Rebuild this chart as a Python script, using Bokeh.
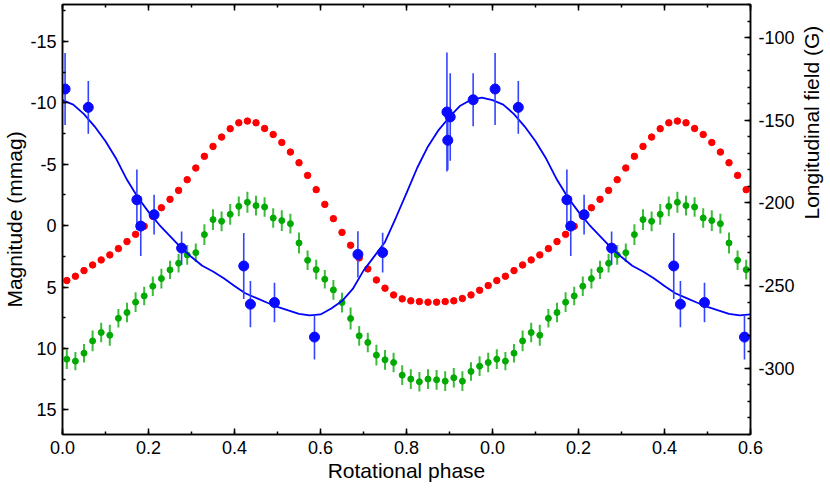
import math
from bokeh.plotting import figure
from bokeh.models import (Range1d, LinearAxis, SingleIntervalTicker,
                          CustomJSTickFormatter)
from bokeh.embed import file_html
from bokeh.resources import INLINE

# ---------------- data (one rotation cycle, phases 0..1) ----------------
phot_phase = [0.01, 0.03, 0.05, 0.07, 0.09, 0.11, 0.13, 0.15, 0.17, 0.19,
              0.21, 0.23, 0.25, 0.27, 0.29, 0.31, 0.33, 0.35, 0.37, 0.39,
              0.41, 0.43, 0.45, 0.47, 0.49, 0.51, 0.53, 0.55, 0.57, 0.59,
              0.61, 0.63, 0.65, 0.67, 0.69, 0.71, 0.73, 0.75, 0.77, 0.79,
              0.81, 0.83, 0.85, 0.87, 0.89, 0.91, 0.93, 0.95, 0.97, 0.99]

red_mag = [4.47, 4.12, 3.66, 3.20, 2.79, 2.38, 1.87, 1.30, 0.71, 0.05,
           -0.76, -1.46, -2.14, -2.87, -3.74, -4.69, -5.64, -6.45, -7.21, -7.89,
           -8.37, -8.51, -8.37, -7.91, -7.42, -6.77, -5.99, -5.12, -4.09, -2.93,
           -1.73, -0.57, 0.55, 1.60, 2.63, 3.52, 4.42, 5.09, 5.64, 5.96,
           6.12, 6.18, 6.23, 6.23, 6.18, 6.12, 5.93, 5.64, 5.26, 4.88]

green_mag = [10.87, 11.03, 10.38, 9.38, 8.70, 8.92, 7.54, 7.07, 6.23, 5.72,
             4.93, 4.31, 3.60, 3.06, 2.38, 2.20, 0.73, -0.49, -0.35, -0.92,
             -1.57, -1.90, -1.63, -1.52, -0.62, -0.41, -0.16, 1.41, 2.82, 3.58,
             4.36, 5.23, 6.26, 7.56, 8.97, 9.51, 10.54, 10.92, 11.14, 12.17,
             12.49, 12.71, 12.49, 12.55, 12.66, 12.38, 12.66, 11.87, 11.44, 11.14]

green_err = [0.80, 0.75, 0.75, 0.85, 0.80, 0.85, 0.75, 0.80, 0.80, 0.75,
             0.80, 0.80, 0.75, 0.75, 0.80, 0.75, 0.85, 0.85, 0.80, 0.85,
             0.80, 0.85, 0.80, 0.80, 0.80, 0.85, 0.80, 0.85, 0.80, 0.80,
             0.75, 0.80, 0.80, 0.90, 0.80, 0.80, 0.85, 0.80, 0.80, 0.80,
             0.80, 0.80, 0.80, 0.80, 0.80, 0.80, 0.80, 0.75, 0.80, 0.80]

field_phase = [0.006, 0.060, 0.173, 0.182, 0.213, 0.277, 0.4215, 0.437,
               0.493, 0.586, 0.687, 0.7445, 0.894, 0.896, 0.9017, 0.955]
field_G = [-131.1, -142.2, -198.1, -214.0, -207.1, -227.3, -238.1, -261.2,
           -260.2, -281.1, -231.1, -230.0, -145.0, -162.1, -148.0, -137.6]
field_err = [21.7, 15.9, 18.3, 18.0, 12.0, 10.0, 20.0, 14.0,
             12.0, 13.5, 14.0, 12.0, 36.0, 18.0, 26.5, 16.0]

fit_phase = [0.000, 0.025, 0.050, 0.075, 0.100, 0.125, 0.150, 0.175, 0.200,
             0.225, 0.250, 0.275, 0.300, 0.325, 0.350, 0.375, 0.400, 0.425,
             0.450, 0.475, 0.500, 0.525, 0.550, 0.575, 0.600, 0.625, 0.650,
             0.675, 0.700, 0.725, 0.750, 0.775, 0.800, 0.825, 0.850, 0.875,
             0.900, 0.925, 0.950, 0.975, 1.000]
fit_G = [-137.8, -140.5, -146.3, -153.8, -162.7, -173.3, -186.0, -196.6, -205.4,
         -213.2, -220.0, -226.8, -232.7, -238.0, -241.4, -245.5, -250.2, -254.6,
         -257.4, -260.2, -262.8, -265.0, -267.0, -268.0, -267.4, -263.8, -259.3,
         -252.0, -240.9, -232.3, -223.6, -209.1, -194.1, -178.7, -165.8, -155.8,
         -148.0, -141.2, -137.6, -136.3, -137.8]

X_MAX = 1.6   # phase axis runs over 1.6 cycles


def extend(ph, *cols):
    """Repeat the phased data for the next cycle, up to X_MAX."""
    xs = []
    outs = [[] for _ in cols]
    for cyc in (0, 1):
        for i, f in enumerate(ph):
            x = f + cyc
            if x > X_MAX + 1e-9 or (cyc == 1 and f == 0.0 and 1.0 in ph):
                continue
            xs.append(x)
            for o, c in zip(outs, cols):
                o.append(c[i])
    return [xs] + outs


px, red_y, green_y, green_e = extend(phot_phase, red_mag, green_mag, green_err)
fx, fG, fE = extend(field_phase, field_G, field_err)
cx, cG = extend(fit_phase, fit_G)

FONT = "Liberation Sans"

p = figure(frame_width=688, frame_height=430, output_backend="svg",
           toolbar_location=None,
           x_range=Range1d(0, X_MAX), y_range=Range1d(17, -18),
           min_border_left=0, min_border_right=0, min_border_top=4,
           min_border_bottom=0)
p.extra_y_ranges = {"field": Range1d(-340, -80)}
p.xgrid.visible = False
p.ygrid.visible = False
p.outline_line_color = "black"
p.outline_line_width = 1.5
p.background_fill_color = "white"
p.border_fill_color = "white"

INT_FMT = CustomJSTickFormatter(code="return String(Math.round(tick));")


def style_axis(ax, tick_size="18px"):
    ax.axis_line_color = "black"
    ax.axis_line_width = 1.5
    ax.major_tick_line_color = "black"
    ax.minor_tick_line_color = "black"
    ax.major_tick_line_width = 1.5
    ax.minor_tick_line_width = 1.5
    ax.major_tick_in = 6
    ax.major_tick_out = 0
    ax.minor_tick_in = 3
    ax.minor_tick_out = 0
    ax.major_label_text_font = FONT
    ax.major_label_text_font_size = tick_size
    ax.major_label_text_color = "black"
    ax.axis_label_text_font = FONT
    ax.axis_label_text_font_style = "normal"
    ax.axis_label_text_font_size = "21px"
    ax.axis_label_text_color = "black"
    ax.axis_label_standoff = 2


# bottom axis
xa = p.xaxis[0]
xa.ticker = SingleIntervalTicker(interval=0.2, num_minor_ticks=2)
xa.formatter = CustomJSTickFormatter(
    code="return (Math.round((tick % 1) * 10) / 10).toFixed(1);")
style_axis(xa)
xa.major_label_standoff = 6
xa.axis_label = "Rotational phase"

# left axis
ya = p.yaxis[0]
ya.ticker = SingleIntervalTicker(interval=5, num_minor_ticks=2)
ya.formatter = INT_FMT
style_axis(ya)
ya.major_label_standoff = 6
ya.axis_label_standoff = 1
ya.axis_label = "Magnitude (mmag)"

# top axis (ticks only, no labels)
ta = LinearAxis(ticker=SingleIntervalTicker(interval=0.2, num_minor_ticks=2),
                formatter=CustomJSTickFormatter(code="return '';"))
style_axis(ta)
ta.major_label_standoff = 0
p.add_layout(ta, "above")

# right axis (field)
ra = LinearAxis(y_range_name="field",
                ticker=SingleIntervalTicker(interval=50, num_minor_ticks=5),
                formatter=CustomJSTickFormatter(code="return String(Math.round(tick));"))
style_axis(ra)
ra.major_label_standoff = 8
ra.axis_label = "Longitudinal field (G)"
if "axis_label_orientation" in ra.properties():
    ra.axis_label_orientation = math.pi / 2
    ra.axis_label_standoff = 14
p.add_layout(ra, "right")

# green photometry with error bars
g_lo = [g - e for g, e in zip(green_y, green_e)]
g_hi = [g + e for g, e in zip(green_y, green_e)]
p.segment(x0=px, y0=g_lo, x1=px, y1=g_hi, line_color="#3dbb3d", line_width=2)
p.scatter(px, green_y, size=6, fill_color="#00aa00", line_color="#00aa00")

# red photometry
p.scatter(px, red_y, size=6.5, fill_color="#ff0000", line_color="#ff0000")

# field fit curve
p.line(cx, cG, y_range_name="field", line_color="#0000ff", line_width=1.8)

# field measurements
f_lo = [g - e for g, e in zip(fG, fE)]
f_hi = [g + e for g, e in zip(fG, fE)]
p.segment(x0=fx, y0=f_lo, x1=fx, y1=f_hi, y_range_name="field",
          line_color="#3344ff", line_width=1.6)
p.scatter(fx, fG, y_range_name="field", size=10,
          fill_color="#0a0aff", line_color="#0a0aff")

open("out.html", "w").write(file_html(p, INLINE))
